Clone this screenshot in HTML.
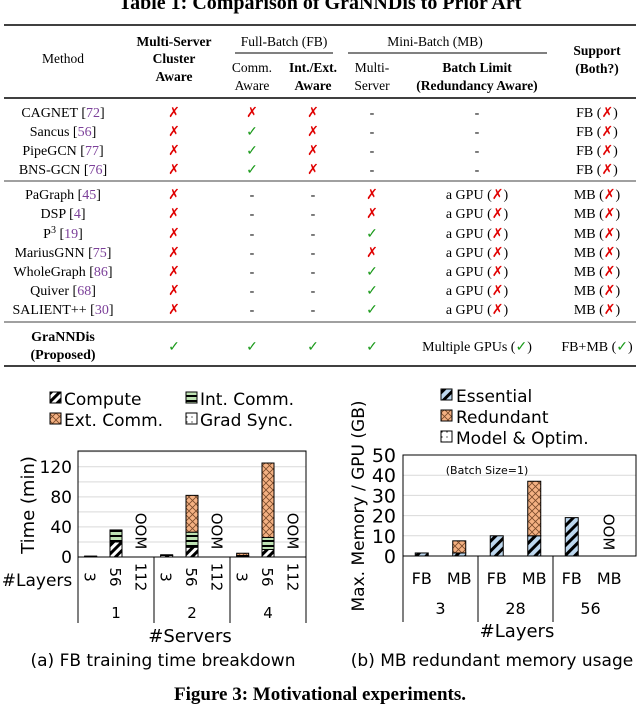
<!DOCTYPE html>
<html><head><meta charset="utf-8"><style>
body{margin:0;background:#fff;width:640px;height:704px;overflow:hidden}
svg{display:block}
.s{font-family:"Liberation Serif",serif}
.a{font-family:"DejaVu Sans","Liberation Sans",sans-serif}
</style></head><body>
<svg id="pg" width="640" height="704" viewBox="0 0 640 704">
<defs>
<pattern id="pc" width="6" height="6" patternUnits="userSpaceOnUse" patternTransform="rotate(45)"><rect width="6" height="6" fill="#fff"/><rect width="3" height="6" fill="#000"/></pattern>
<pattern id="pi" width="6" height="5" patternUnits="userSpaceOnUse"><rect width="6" height="5" fill="#bfe3b4"/><rect width="6" height="2" fill="#000"/></pattern>
<pattern id="pe" width="7" height="7" patternUnits="userSpaceOnUse"><rect width="7" height="7" fill="#f4b183"/><path d="M0 0L7 7M7 0L0 7" stroke="#7a4a2a" stroke-width="0.8"/></pattern>
<pattern id="pg2" width="5" height="5" patternUnits="userSpaceOnUse"><rect width="5" height="5" fill="#fff"/><circle cx="2" cy="2" r="0.6" fill="#000"/></pattern>
<pattern id="ps" width="7" height="7" patternUnits="userSpaceOnUse" patternTransform="rotate(45)"><rect width="7" height="7" fill="#bdd7ee"/><rect width="3" height="7" fill="#000"/></pattern>
</defs>
<g class="s">
<text x="320" y="9" font-size="20" font-weight="bold" text-anchor="middle">Table 1: Comparison of GraNNDis to Prior Art</text>
<line x1="4" y1="25" x2="636" y2="25" stroke="#000" stroke-width="1.5"/>
<g font-size="13.5" text-anchor="middle">
<text x="63" y="63">Method</text>
<text x="174" y="46" font-weight="bold">Multi-Server</text>
<text x="174" y="63" font-weight="bold">Cluster</text>
<text x="174" y="81" font-weight="bold">Aware</text>
<text x="284" y="46">Full-Batch (FB)</text>
<line x1="235" y1="53" x2="333" y2="53" stroke="#000"/>
<text x="252" y="72">Comm.</text><text x="252" y="90">Aware</text>
<text x="313" y="72" font-weight="bold">Int./Ext.</text><text x="313" y="90" font-weight="bold">Aware</text>
<text x="435" y="46">Mini-Batch (MB)</text>
<line x1="348" y1="53" x2="547" y2="53" stroke="#000"/>
<text x="372" y="72">Multi-</text><text x="372" y="90">Server</text>
<text x="477" y="72" font-weight="bold">Batch Limit</text><text x="477" y="90" font-weight="bold">(Redundancy Aware)</text>
<text x="597" y="55" font-weight="bold">Support</text><text x="597" y="73" font-weight="bold">(Both?)</text>
</g>
<line x1="4" y1="98" x2="636" y2="98" stroke="#000" stroke-width="1.5"/>
<line x1="4" y1="181" x2="636" y2="181" stroke="#000" stroke-width="0.7"/>
<line x1="4" y1="322" x2="636" y2="322" stroke="#000" stroke-width="0.7"/>
<line x1="4" y1="366" x2="636" y2="366" stroke="#000" stroke-width="1.5"/>
<g id="rows" font-size="14" text-anchor="middle"></g>
</g>

<g class="a">
<g font-size="17">
<rect x="50" y="392" width="11" height="11" fill="url(#pc)" stroke="#000"/><text x="64" y="405">Compute</text>
<rect x="186" y="392" width="11" height="11" fill="url(#pi)" stroke="#000"/><text x="200" y="405">Int. Comm.</text>
<rect x="50" y="413" width="11" height="11" fill="url(#pe)" stroke="#000"/><text x="64" y="426">Ext. Comm.</text>
<rect x="186" y="413" width="11" height="11" fill="url(#pg2)" stroke="#000"/><text x="200" y="426">Grad Sync.</text>
</g>
<g id="ca"></g>
<text transform="translate(34,505) rotate(-90)" font-size="18" text-anchor="middle">Time (min)</text>
<text x="37" y="586" font-size="17" text-anchor="middle">#Layers</text>
<text x="190" y="642" font-size="18" text-anchor="middle">#Servers</text>
<text x="163" y="666" font-size="17" text-anchor="middle">(a) FB training time breakdown</text>
</g>

<g class="a">
<g font-size="17">
<rect x="441" y="389" width="11" height="11" fill="url(#ps)" stroke="#000"/><text x="456" y="402">Essential</text>
<rect x="441" y="410" width="11" height="11" fill="url(#pe)" stroke="#000"/><text x="456" y="423">Redundant</text>
<rect x="441" y="431" width="11" height="11" fill="url(#pg2)" stroke="#000"/><text x="456" y="444">Model &amp; Optim.</text>
</g>
<g id="cb"></g>
<text x="487" y="474" font-size="11" text-anchor="middle">(Batch Size=1)</text>
<text transform="translate(364,506) rotate(-90)" font-size="17" text-anchor="middle">Max. Memory / GPU (GB)</text>
<text x="517" y="637" font-size="18" text-anchor="middle">#Layers</text>
<text x="492" y="666" font-size="17" text-anchor="middle">(b) MB redundant memory usage</text>
</g>
<text class="s" x="320" y="700" font-size="19" font-weight="bold" text-anchor="middle">Figure 3: Motivational experiments.</text>
</svg>
<script>
const NS="http://www.w3.org/2000/svg";
function mk(p,t,a,txt){const e=document.createElementNS(NS,t);for(const k in a)e.setAttribute(k,a[k]);if(txt!=null)e.textContent=txt;p.appendChild(e);return e;}
// ---- table
const methods=["CAGNET","Sancus","PipeGCN","BNS-GCN","PaGraph","DSP","P","MariusGNN","WholeGraph","Quiver","SALIENT++"];
const cites=["72","56","77","76","45","4","19","75","86","68","30"];
const cells=[["x","x","x","-","-","FB"],["x","v","x","-","-","FB"],["x","v","x","-","-","FB"],["x","v","x","-","-","FB"],
["x","-","-","x","g","MB"],["x","-","-","x","g","MB"],["x","-","-","v","g","MB"],["x","-","-","x","g","MB"],["x","-","-","v","g","MB"],["x","-","-","v","g","MB"],["x","-","-","v","g","MB"]];
const rowY=[117,136,155,174,199,218,238,257,276,295,314];
const colX=[174,252,313,372,477,597];
const R=document.getElementById('rows');
function sym(p,x,y,c){if(c==="x"){return mk(p,'text',{x:x,y:y,fill:"#e00000"},"✗");}if(c==="v"){return mk(p,'text',{x:x,y:y,fill:"#1a9a1a"},"✓");}return mk(p,'text',{x:x,y:y},"-");}
methods.forEach((m,i)=>{
 const g=mk(R,'g',{});
 
 
 const t=mk(g,'text',{x:63,y:rowY[i]});
 mk(t,'tspan',{},m);
 if(m==="P"){mk(t,'tspan',{dy:-5,"font-size":10},"3");mk(t,'tspan',{dy:5},' [');}
 else mk(t,'tspan',{},' [');
 mk(t,'tspan',{fill:"#7b3f99"},cites[i]);mk(t,'tspan',{},']');
 cells[i].forEach((c,j)=>{
  if(j===4&&c==="g"){const q=mk(g,'text',{x:colX[j],y:rowY[i]});mk(q,'tspan',{},'a GPU (');mk(q,'tspan',{fill:'#e00000'},'✗');mk(q,'tspan',{},')');}
  else if(j===5){const q=mk(g,'text',{x:colX[j],y:rowY[i]});mk(q,'tspan',{},c+' (');mk(q,'tspan',{fill:'#e00000'},'✗');mk(q,'tspan',{},')');}
  else sym(g,colX[j],rowY[i],c);
 });
});
{const g=mk(R,'g',{});
 
 
 mk(g,'text',{x:63,y:341,"font-weight":"bold"},"GraNNDis");
 mk(g,'text',{x:63,y:359,"font-weight":"bold"},"(Proposed)");
 [174,252,313,372].forEach(x=>sym(g,x,351,"v"));
 let q=mk(g,'text',{x:477,y:351});mk(q,'tspan',{},'Multiple GPUs (');mk(q,'tspan',{fill:'#1a9a1a'},'✓');mk(q,'tspan',{},')');
 q=mk(g,'text',{x:597,y:351});mk(q,'tspan',{},'FB+MB (');mk(q,'tspan',{fill:'#1a9a1a'},'✓');mk(q,'tspan',{},')');}

// ---- chart a data
const servers=["1","2","4"];
const layersA=["3","56","112"];
const compute=[[0.8,20,null],[2,13,null],[1,10,null]];
const intComm=[[0.4,16,null],[1,20,null],[1,16,null]];
const extComm=[[0,0,null],[0,49,null],[3,99,null]];
const gradSync=[[0,0,null],[0,0,null],[0,0,null]];
const ticksA=[0,40,80,120];
const A={x0:78,x1:306,y0:557,yTop:451,max:141};
const ya=v=>A.y0-v/A.max*(A.y0-A.yTop);
const gw=(A.x1-A.x0)/servers.length;
const xa=(g,k)=>A.x0+gw*g+gw*(k+0.5)/3;
const CA=document.getElementById('ca');
for(let v=20;v<=140;v+=20){const l=mk(CA,'line',{x1:A.x0,x2:A.x1,y1:ya(v),y2:ya(v),stroke:"#d9d9d9"});}
ticksA.forEach(v=>{const t=mk(CA,'text',{x:72,y:ya(v)+6,"font-size":17,"text-anchor":"end"},v);});
mk(CA,'rect',{x:A.x0,y:A.yTop,width:A.x1-A.x0,height:A.y0-A.yTop,fill:"none",stroke:"#000","stroke-width":1});
servers.forEach((s,g)=>{
 layersA.forEach((L,k)=>{
  const x=xa(g,k);
  const lt=mk(CA,'text',{transform:`translate(${x-6},577) rotate(90)`,"font-size":15,"text-anchor":"middle"},L);
  
  if(compute[g][k]===null){const o=mk(CA,'text',{transform:`translate(${x-6},531) rotate(90)`,"font-size":15,"text-anchor":"middle"},"OOM");return;}
  let acc=0;
  [[compute,'url(#pc)','compute'],[intComm,'url(#pi)','int-comm'],[extComm,'url(#pe)','ext-comm'],[gradSync,'url(#pg2)','grad-sync']].forEach(([arr,f,n])=>{
   const v=arr[g][k];if(!v)return;
   const r=mk(CA,'rect',{x:x-6,y:ya(acc+v),width:12,height:ya(acc)-ya(acc+v),fill:f,stroke:"#000","stroke-width":1});
   
   acc+=v;});
 });
 const st=mk(CA,'text',{x:A.x0+gw*(g+0.5),y:618,"font-size":15,"text-anchor":"middle"},s);
 
});
for(let g=0;g<=servers.length;g++){mk(CA,'line',{x1:A.x0+gw*g,x2:A.x0+gw*g,y1:A.y0,y2:623,stroke:"#000"});}

// ---- chart b data
const layersB=["3","28","56"];
const modes=["FB","MB"];
const essential=[[1.5,1.5],[10,10],[19,null]];
const redundant=[[0,6],[0,27],[0,null]];
const modelOpt=[[0,0],[0,0],[0,0]];
const ticksB=[0,10,20,30,40,50];
const B={x0:403,x1:636,y0:556,yTop:455,max:50};
const yb=v=>B.y0-v/B.max*(B.y0-B.yTop);
const gwb=75;
const xb=(g,k)=>B.x0+gwb*g+gwb*(k+0.5)/2;
const CB=document.getElementById('cb');
ticksB.forEach(v=>{if(v>0){const l=mk(CB,'line',{x1:B.x0,x2:B.x1,y1:yb(v),y2:yb(v),stroke:"#d9d9d9"});}
 const t=mk(CB,'text',{x:396,y:yb(v)+7,"font-size":19,"text-anchor":"end"},v);});
mk(CB,'rect',{x:B.x0,y:B.yTop,width:B.x1-B.x0,height:B.y0-B.yTop,fill:"none",stroke:"#000"});
layersB.forEach((L,g)=>{
 modes.forEach((m,k)=>{
  const x=xb(g,k);
  const mt=mk(CB,'text',{x:x,y:584,"font-size":16,"text-anchor":"middle"},m);
  
  if(essential[g][k]===null){const o=mk(CB,'text',{transform:`translate(${x-6},532) rotate(90)`,"font-size":15,"text-anchor":"middle"},"OOM");return;}
  let acc=0;
  [[essential,'url(#ps)','essential'],[redundant,'url(#pe)','redundant'],[modelOpt,'url(#pg2)','model-optim']].forEach(([arr,f,n])=>{
   const v=arr[g][k];if(!v)return;
   const r=mk(CB,'rect',{x:x-6.5,y:yb(acc+v),width:13,height:yb(acc)-yb(acc+v),fill:f,stroke:"#000"});
   
   acc+=v;});
 });
 const lt=mk(CB,'text',{x:B.x0+gwb*(g+0.5),y:614,"font-size":16,"text-anchor":"middle"},L);
 
});
for(let g=0;g<3;g++){mk(CB,'line',{x1:B.x0+gwb*g,x2:B.x0+gwb*g,y1:B.y0,y2:622,stroke:"#000"});}
</script>
</body></html>
